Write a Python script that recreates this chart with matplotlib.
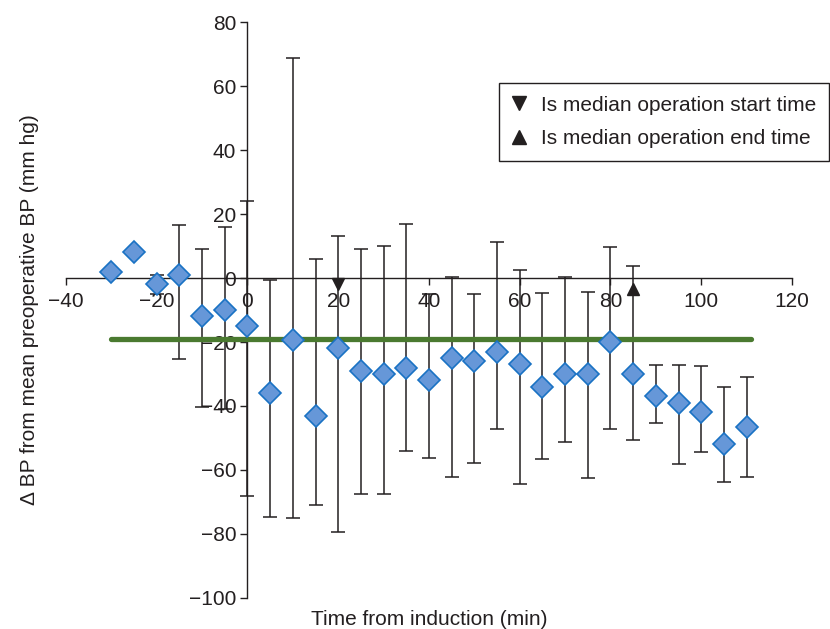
import numpy as np
import matplotlib
matplotlib.use('Agg')
import matplotlib.pyplot as plt
from matplotlib.lines import Line2D

plt.rcParams['font.family'] = ['Liberation Sans', 'DejaVu Sans']

# minutes from induction
times = [-30, -25, -20, -15, -10, -5, 0, 5, 10, 15, 20, 25, 30, 35, 40,
         45, 50, 55, 60, 65, 70, 75, 80, 85, 90, 95, 100, 105, 110]
# mean change in BP (mm hg)
means = [2, 8, -2, 1, -12, -10, -15, -36, -19.5, -43, -22, -29, -30, -28, -32,
         -25, -26, -23, -27, -34, -30, -30, -20, -30, -37, -39, -42, -52, -46.5]
# error bar ends
upper = [np.nan, np.nan, 1, 16.6, 9.2, 16, 24, -0.6, 68.6, 5.9, 13.1, 9, 10, 16.8, -5,
         0.3, -5, 11.4, 2.6, -4.6, 0.3, -4.4, 9.6, 3.6, -27.2, -27.2, -27.4, -34.2, -31]
lower = [np.nan, np.nan, -5, -25.3, -40.2, -41, -68, -74.6, -75.1, -70.9, -79.4, -67.5, -67.5, -54, -56.4,
         -62.3, -57.7, -47.3, -64.3, -56.7, -51.4, -62.5, -47.3, -50.6, -45.2, -58.2, -54.4, -63.9, -62.1]

ref_level = -19.2
ref_span = [-30, 111]
op_start = 20
op_end = 85

t = np.array(times, dtype=float)
m = np.array(means, dtype=float)
up = np.array(upper, dtype=float)
lo = np.array(lower, dtype=float)
has_err = ~np.isnan(up)

fig = plt.figure(figsize=(8.3, 6.29), dpi=100)
ax = fig.add_axes([0.0795, 0.0493, 0.8747, 0.9157])

ink = '#231f20'

ax.errorbar(t[has_err], m[has_err],
            yerr=[m[has_err] - lo[has_err], up[has_err] - m[has_err]],
            fmt='none', ecolor=ink, elinewidth=1.1, capsize=5, capthick=1.1, zorder=2)

ax.plot(ref_span, [ref_level, ref_level], color='#4a7a30', lw=3.8,
        solid_capstyle='round', zorder=3)

ax.plot(t, m, 'D', ms=11.5, markerfacecolor='#6697d8', markeredgecolor='#1a72c4',
        markeredgewidth=1.2, zorder=4, linestyle='none')

ax.plot([op_start], [-2], 'v', color=ink, ms=8.5, zorder=5)
ax.plot([op_end], [-3.5], '^', color=ink, ms=8.5, zorder=5)

ax.set_xlim(-40, 120)
ax.set_ylim(-100, 80)
ax.set_xticks(np.arange(-40, 121, 20))
ax.set_yticks(np.arange(-100, 81, 20))

ax.spines['left'].set_position(('data', 0))
ax.spines['bottom'].set_position(('data', 0))
ax.spines['right'].set_visible(False)
ax.spines['top'].set_visible(False)
for s in ('left', 'bottom'):
    ax.spines[s].set_color(ink)
    ax.spines[s].set_linewidth(1.0)

ax.tick_params(axis='both', direction='out', length=5, width=1.0, color=ink,
               labelsize=15, labelcolor=ink)
ax.tick_params(axis='x', pad=5)
ax.tick_params(axis='y', pad=3)

ax.text(0.5, -0.038, 'Time from induction (min)', transform=ax.transAxes,
        ha='center', va='center', fontsize=15, color=ink)
ax.text(-0.05, 0.5, '\u0394 BP from mean preoperative BP (mm hg)', transform=ax.transAxes,
        ha='center', va='center', rotation=90, fontsize=15, color=ink)

handles = [Line2D([], [], marker='v', color=ink, linestyle='none', ms=10),
           Line2D([], [], marker='^', color=ink, linestyle='none', ms=10)]
leg = ax.legend(handles, ['Is median operation start time', 'Is median operation end time'],
                loc='upper right', bbox_to_anchor=(0.9988, 0.868), bbox_transform=fig.transFigure,
                fancybox=False, framealpha=1, edgecolor=ink, fontsize=15,
                handlelength=0.8, handletextpad=0.65, borderpad=0.6, labelspacing=0.7,
                borderaxespad=0)
leg.get_frame().set_linewidth(1.0)
for txt in leg.get_texts():
    txt.set_color(ink)

fig.savefig('out.png', dpi=100)
